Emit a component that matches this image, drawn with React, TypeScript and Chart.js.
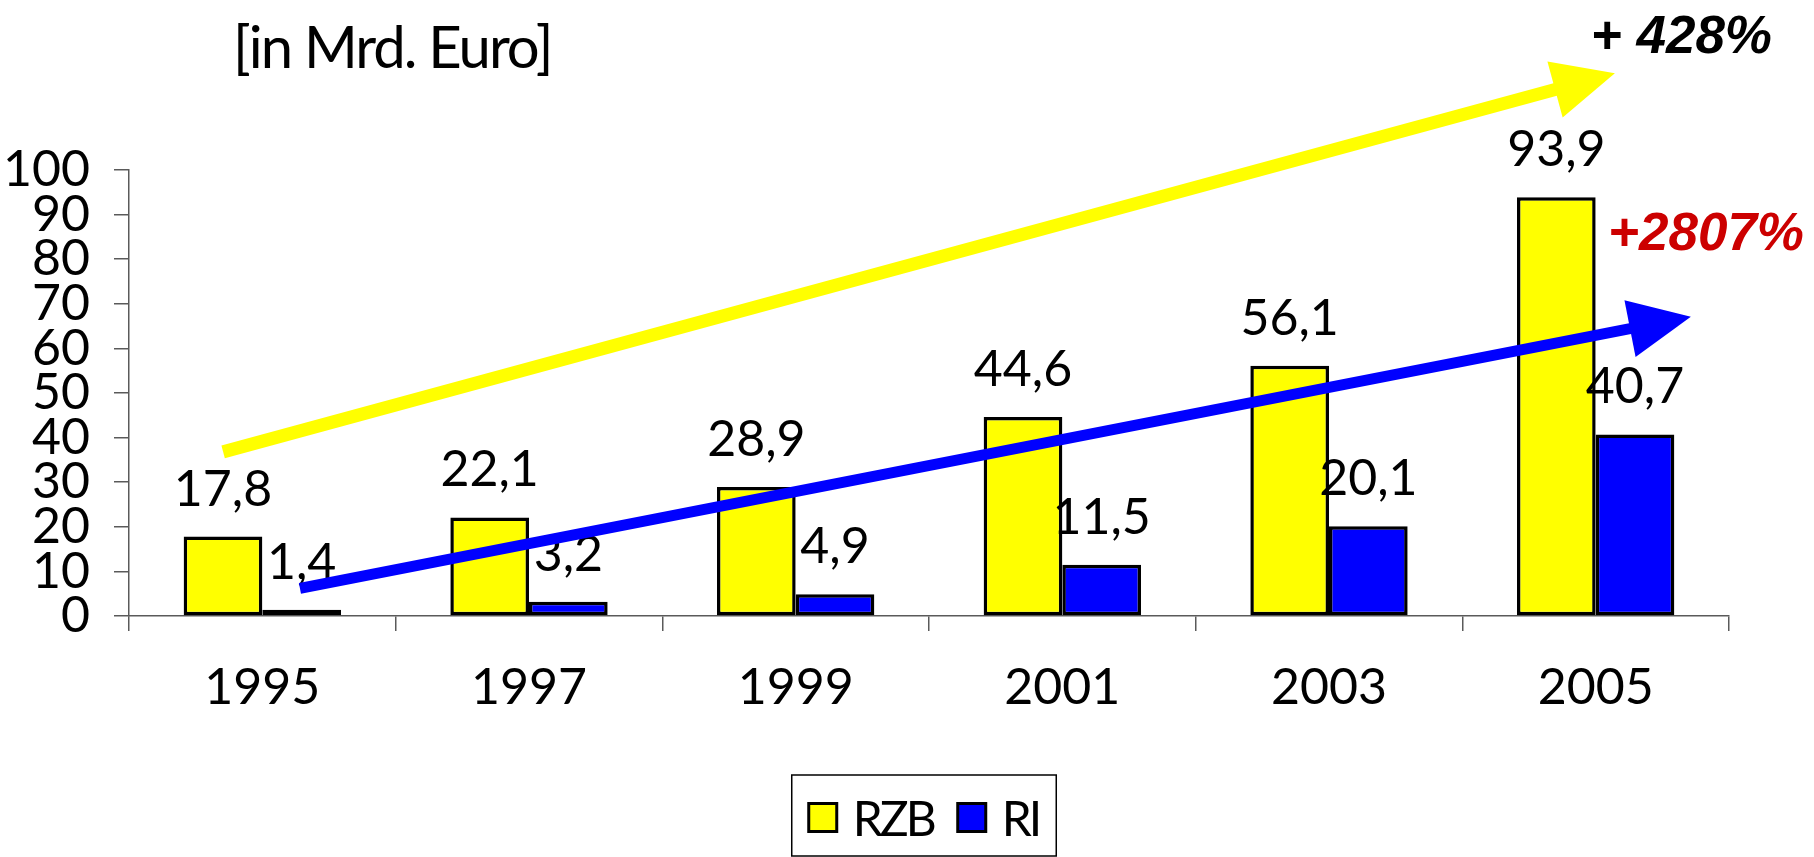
import { useEffect, useRef } from 'react';
import { Chart, registerables } from 'chart.js';

Chart.register(...registerables);

// ---- data ----
const years = ['1995', '1997', '1999', '2001', '2003', '2005'];
const rzbValues = [17.8, 22.1, 28.9, 44.6, 56.1, 93.9];
const riValues = [1.4, 3.2, 4.9, 11.5, 20.1, 40.7];
const seriesNames = ['RZB', 'RI'];
const yMin = 0;
const yMax = 100;
const yStep = 10;
const unitTitle = '[in Mrd. Euro]';
const rzbGrowthLabel = '+ 428%';
const riGrowthLabel = '+2807%';

// trend arrows in data space: [category index, value]
const rzbTrendFrom = [-0.147, 36.8];
const rzbTrendTo = [5.072, 121.7];
const riTrendFrom = [0.141, 6.2];
const riTrendTo = [5.357, 67.1];

const FONT = 'Lato, "Noto Sans", sans-serif';
const YELLOW = '#FFFF00';
const BLUE = '#0000FF';
const AXIS = '#5a5a5a';

function fmt(v: number) {
  return v.toFixed(1).replace('.', ',');
}

const overlayPlugin = {
  id: 'overlay',
  afterDatasetsDraw(chart: any) {
    const ctx = chart.ctx as CanvasRenderingContext2D & { letterSpacing?: string };
    const xs = chart.scales.x;
    const ys = chart.scales.y;
    const area = chart.chartArea;

    // value labels
    ctx.save();
    ctx.fillStyle = '#000';
    ctx.font = `50px ${FONT}`;
    ctx.textAlign = 'center';
    ctx.textBaseline = 'alphabetic';
    chart.data.datasets.forEach((ds: any, di: number) => {
      const meta = chart.getDatasetMeta(di);
      meta.data.forEach((bar: any, i: number) => {
        ctx.fillText(fmt(ds.data[i]), bar.x, bar.y - 31);
      });
    });
    ctx.restore();

    // trend arrows
    const drawArrow = (from: number[], to: number[], color: string, lw: number) => {
      const x0 = xs.getPixelForValue(from[0]);
      const y0 = ys.getPixelForValue(from[1]);
      const x1 = xs.getPixelForValue(to[0]);
      const y1 = ys.getPixelForValue(to[1]);
      const dx = x1 - x0;
      const dy = y1 - y0;
      const len = Math.hypot(dx, dy);
      const ux = dx / len;
      const uy = dy / len;
      const nx = -uy;
      const ny = ux;
      const headL = 62;
      const headW = 29;
      const bx = x1 - ux * headL;
      const by = y1 - uy * headL;
      ctx.save();
      ctx.strokeStyle = color;
      ctx.fillStyle = color;
      ctx.lineWidth = lw;
      ctx.lineCap = 'butt';
      ctx.beginPath();
      ctx.moveTo(x0, y0);
      ctx.lineTo(bx + ux * 4, by + uy * 4);
      ctx.stroke();
      ctx.beginPath();
      ctx.moveTo(x1, y1);
      ctx.lineTo(bx + nx * headW, by + ny * headW);
      ctx.lineTo(bx - nx * headW, by - ny * headW);
      ctx.closePath();
      ctx.fill();
      ctx.restore();
    };
    drawArrow(rzbTrendFrom, rzbTrendTo, YELLOW, 13);
    drawArrow(riTrendFrom, riTrendTo, BLUE, 11);

    // growth annotations
    ctx.save();
    ctx.font = `italic bold 53px "Liberation Sans", Arial, sans-serif`;
    ctx.textBaseline = 'alphabetic';
    ctx.fillStyle = '#000';
    ctx.textAlign = 'right';
    ctx.fillText(rzbGrowthLabel, 1772, 53);
    ctx.fillStyle = '#CC0000';
    ctx.textAlign = 'left';
    ctx.fillText(riGrowthLabel, 1608, 250);
    ctx.restore();

    // unit title
    ctx.save();
    ctx.font = `58px ${FONT}`;
    ctx.letterSpacing = '-2px';
    ctx.fillStyle = '#000';
    ctx.textAlign = 'left';
    ctx.textBaseline = 'alphabetic';
    ctx.fillText(unitTitle, 233, 68);
    ctx.restore();

    // legend with frame
    ctx.save();
    ctx.font = `48px ${FONT}`;
    ctx.letterSpacing = '-3px';
    const sq = 28;
    const gapText = 16;
    const gapItem = 24;
    const pad = 17;
    const widths = chart.data.datasets.map((d: any) => ctx.measureText(d.label).width);
    let total = 0;
    widths.forEach((w: number, i: number) => {
      total += sq + gapText + w + (i < widths.length - 1 ? gapItem : 0);
    });
    const boxW = total + pad * 2;
    const cx = (area.left + area.right) / 2 - 5;
    const boxL = cx - boxW / 2;
    const boxT = 775;
    const boxH = 81;
    ctx.strokeStyle = '#000';
    ctx.lineWidth = 1.5;
    ctx.strokeRect(boxL, boxT, boxW, boxH);
    let x = boxL + pad;
    const sqTop = 803.5;
    chart.data.datasets.forEach((d: any, i: number) => {
      ctx.fillStyle = d.backgroundColor;
      ctx.fillRect(x, sqTop, sq, sq);
      ctx.strokeStyle = '#000';
      ctx.lineWidth = 3;
      ctx.strokeRect(x, sqTop, sq, sq);
      ctx.fillStyle = '#000';
      ctx.textAlign = 'left';
      ctx.textBaseline = 'alphabetic';
      ctx.fillText(d.label, x + sq + gapText, 836);
      x += sq + gapText + widths[i] + gapItem;
    });
    ctx.restore();
  },
};

export default function App() {
  const canvasRef = useRef<HTMLCanvasElement | null>(null);

  useEffect(() => {
    document.body.style.margin = '0';
    const canvas = canvasRef.current;
    if (!canvas) return;
    const chart = new Chart(canvas, {
      type: 'bar',
      data: {
        labels: years,
        datasets: [
          {
            label: seriesNames[0],
            data: rzbValues,
            backgroundColor: YELLOW,
            borderColor: '#000',
            borderWidth: 3.5,
            borderSkipped: false,
            categoryPercentage: 0.59,
            barPercentage: 1,
          },
          {
            label: seriesNames[1],
            data: riValues,
            backgroundColor: BLUE,
            borderColor: '#000',
            borderWidth: 3.5,
            borderSkipped: false,
            categoryPercentage: 0.59,
            barPercentage: 1,
          },
        ],
      },
      options: {
        responsive: false,
        animation: false,
        events: [],
        layout: { padding: { top: 170, bottom: 141, left: 0, right: 85 } },
        plugins: {
          legend: { display: false },
          tooltip: { enabled: false },
          title: { display: false },
        },
        scales: {
          x: {
            offset: true,
            grid: {
              offset: true,
              drawOnChartArea: false,
              drawTicks: true,
              tickLength: 15,
              color: AXIS,
              lineWidth: 1.5,
            },
            border: { display: true, color: AXIS, width: 1.5 },
            ticks: {
              color: '#000',
              font: { family: FONT, size: 50, lineHeight: 1.2 },
              padding: 27,
              maxRotation: 0,
              autoSkip: false,
            },
            afterFit: (scale: any) => {
              scale.height = 100;
            },
          },
          y: {
            min: yMin,
            max: yMax,
            grid: {
              drawOnChartArea: false,
              drawTicks: true,
              tickLength: 15,
              color: AXIS,
              lineWidth: 1.5,
            },
            border: { display: true, color: AXIS, width: 1.5 },
            ticks: {
              stepSize: yStep,
              autoSkip: false,
              color: '#000',
              font: { family: FONT, size: 50, lineHeight: 1.0 },
              padding: 24,
              callback: (v: any) => String(v),
            },
            afterFit: (scale: any) => {
              scale.width = 129;
            },
          },
        },
      },
      plugins: [overlayPlugin],
    });
    return () => chart.destroy();
  }, []);

  return (
    <div style={{ width: 1814, height: 857, background: '#fff' }}>
      <canvas ref={canvasRef} width={1814} height={857} style={{ display: 'block' }} />
    </div>
  );
}
